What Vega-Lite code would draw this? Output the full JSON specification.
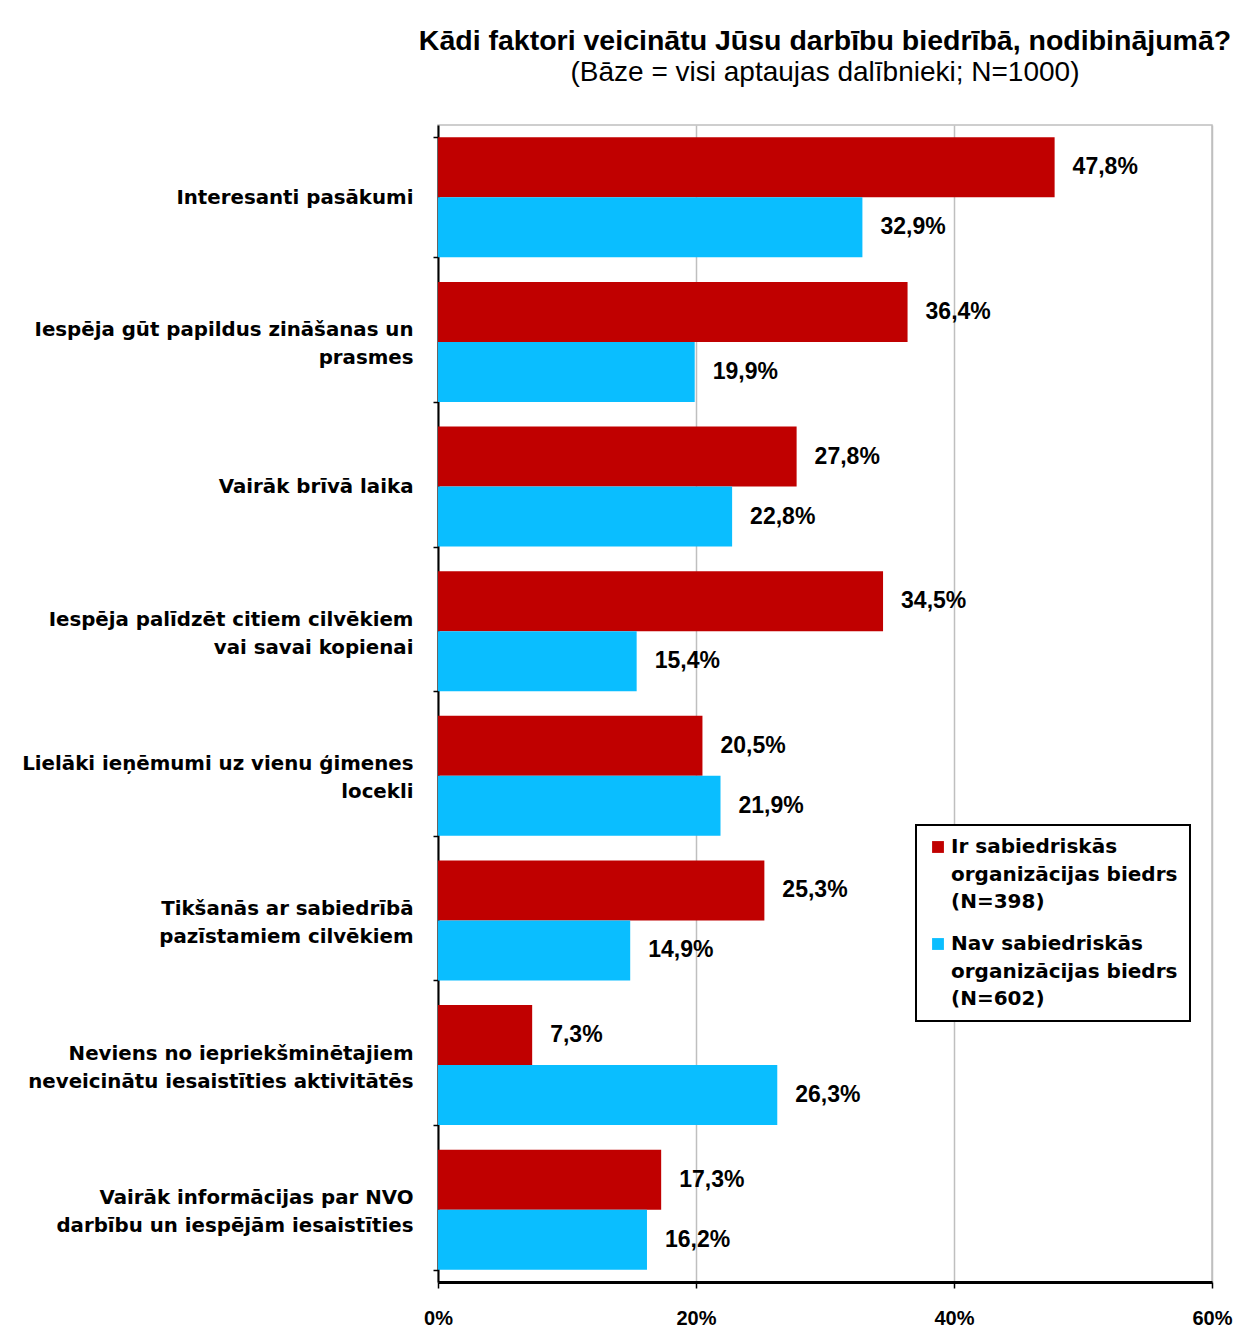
{
  "$schema": "https://vega.github.io/schema/vega-lite/v6.json",
  "autosize": "none",
  "width": 774,
  "height": 1157,
  "padding": {"left": 438, "top": 125, "right": 31, "bottom": 55},
  "background": "white",
  "title": {
    "text": "Kādi faktori veicinātu Jūsu darbību biedrībā, nodibinājumā?",
    "subtitle": "(Bāze = visi aptaujas dalībnieki; N=1000)",
    "anchor": "middle",
    "font": "Liberation Sans",
    "fontSize": 28.5,
    "fontWeight": "bold",
    "color": "black",
    "subtitleFont": "Liberation Sans",
    "subtitleFontSize": 28,
    "subtitleColor": "black",
    "subtitlePadding": 4,
    "offset": 28
  },
  "data": {
    "values": [
      {"faktors": "Interesanti pasākumi", "grupa": "Ir sabiedriskās|organizācijas biedrs|(N=398)", "v": 0.478},
      {"faktors": "Interesanti pasākumi", "grupa": "Nav sabiedriskās|organizācijas biedrs|(N=602)", "v": 0.329},
      {"faktors": "Iespēja gūt papildus  zināšanas un|prasmes", "grupa": "Ir sabiedriskās|organizācijas biedrs|(N=398)", "v": 0.364},
      {"faktors": "Iespēja gūt papildus  zināšanas un|prasmes", "grupa": "Nav sabiedriskās|organizācijas biedrs|(N=602)", "v": 0.199},
      {"faktors": "Vairāk brīvā laika", "grupa": "Ir sabiedriskās|organizācijas biedrs|(N=398)", "v": 0.278},
      {"faktors": "Vairāk brīvā laika", "grupa": "Nav sabiedriskās|organizācijas biedrs|(N=602)", "v": 0.228},
      {"faktors": "Iespēja palīdzēt citiem cilvēkiem|vai savai kopienai", "grupa": "Ir sabiedriskās|organizācijas biedrs|(N=398)", "v": 0.345},
      {"faktors": "Iespēja palīdzēt citiem cilvēkiem|vai savai kopienai", "grupa": "Nav sabiedriskās|organizācijas biedrs|(N=602)", "v": 0.154},
      {"faktors": "Lielāki ieņēmumi uz vienu ģimenes|locekli", "grupa": "Ir sabiedriskās|organizācijas biedrs|(N=398)", "v": 0.205},
      {"faktors": "Lielāki ieņēmumi uz vienu ģimenes|locekli", "grupa": "Nav sabiedriskās|organizācijas biedrs|(N=602)", "v": 0.219},
      {"faktors": "Tikšanās ar sabiedrībā|pazīstamiem cilvēkiem", "grupa": "Ir sabiedriskās|organizācijas biedrs|(N=398)", "v": 0.253},
      {"faktors": "Tikšanās ar sabiedrībā|pazīstamiem cilvēkiem", "grupa": "Nav sabiedriskās|organizācijas biedrs|(N=602)", "v": 0.149},
      {"faktors": "Neviens no iepriekšminētajiem|neveicinātu iesaistīties aktivitātēs", "grupa": "Ir sabiedriskās|organizācijas biedrs|(N=398)", "v": 0.073},
      {"faktors": "Neviens no iepriekšminētajiem|neveicinātu iesaistīties aktivitātēs", "grupa": "Nav sabiedriskās|organizācijas biedrs|(N=602)", "v": 0.263},
      {"faktors": "Vairāk informācijas par NVO|darbību un iespējām iesaistīties", "grupa": "Ir sabiedriskās|organizācijas biedrs|(N=398)", "v": 0.173},
      {"faktors": "Vairāk informācijas par NVO|darbību un iespējām iesaistīties", "grupa": "Nav sabiedriskās|organizācijas biedrs|(N=602)", "v": 0.162}
    ]
  },
  "encoding": {
    "y": {
      "field": "faktors",
      "type": "nominal",
      "sort": null,
      "scale": {"paddingInner": 0.17, "paddingOuter": 0.085},
      "axis": {
        "title": null,
        "labelExpr": "datum.value ? split(datum.value, '|') : ''",
        "labelFont": "DejaVu Sans",
        "labelFontSize": 19.8,
        "labelFontWeight": "bold",
        "labelColor": "black",
        "labelLineHeight": 28,
        "labelLimit": 420,
        "labelPadding": 20,
        "labelOffset": {"condition": {"test": "datum.value && indexof(datum.value, '|') >= 0", "value": -12}, "value": 0},
        "tickBand": "extent",
        "tickSize": 5,
        "tickColor": "black",
        "tickWidth": 1.5,
        "domainColor": "black",
        "domainWidth": 2
      }
    },
    "yOffset": {"field": "grupa", "type": "nominal", "sort": null},
    "x": {
      "field": "v",
      "type": "quantitative",
      "scale": {"domain": [0, 0.6]},
      "axis": {
        "title": null,
        "format": ".0%",
        "values": [0, 0.2, 0.4, 0.6],
        "labelFont": "Liberation Sans",
        "labelFontSize": 20,
        "labelFontWeight": "bold",
        "labelColor": "black",
        "labelPadding": 20,
        "labelFlush": false,
        "tickSize": 6,
        "tickColor": "black",
        "tickWidth": 1.5,
        "domainColor": "black",
        "domainWidth": 3,
        "grid": true,
        "gridColor": "#BFBFBF",
        "gridWidth": 1.5
      }
    }
  },
  "layer": [
    {
      "mark": {"type": "bar"},
      "encoding": {
        "color": {
          "field": "grupa",
          "type": "nominal",
          "sort": null,
          "scale": {"range": ["#C00000", "#0ABEFF"]},
          "legend": {
            "title": null,
            "orient": "none",
            "legendX": 478,
            "legendY": 700,
            "labelExpr": "split(datum.label, '|')",
            "labelFont": "DejaVu Sans",
            "labelFontSize": 20,
            "labelFontWeight": "bold",
            "labelColor": "black",
            "labelLimit": 400,
            "labelOffset": 3,
            "symbolType": "square",
            "symbolSize": 140,
            "symbolStrokeWidth": 0,
            "rowPadding": 22,
            "padding": 12,
            "strokeColor": "black",
            "fillColor": "white"
          }
        }
      }
    },
    {
      "mark": {
        "type": "text",
        "align": "left",
        "baseline": "middle",
        "dx": 18,
        "font": "Liberation Sans",
        "fontSize": 23,
        "fontWeight": "bold",
        "color": "black"
      },
      "encoding": {
        "text": {"field": "v", "type": "quantitative", "format": ".1%"}
      }
    }
  ],
  "config": {
    "locale": {
      "number": {"decimal": ",", "thousands": " ", "grouping": [3], "currency": ["", " €"]}
    },
    "view": {"stroke": "#BFBFBF", "strokeWidth": 1.5},
    "legend": {"strokeWidth": 2},
    "style": {"guide-label": {"lineHeight": 27.5}}
  }
}
